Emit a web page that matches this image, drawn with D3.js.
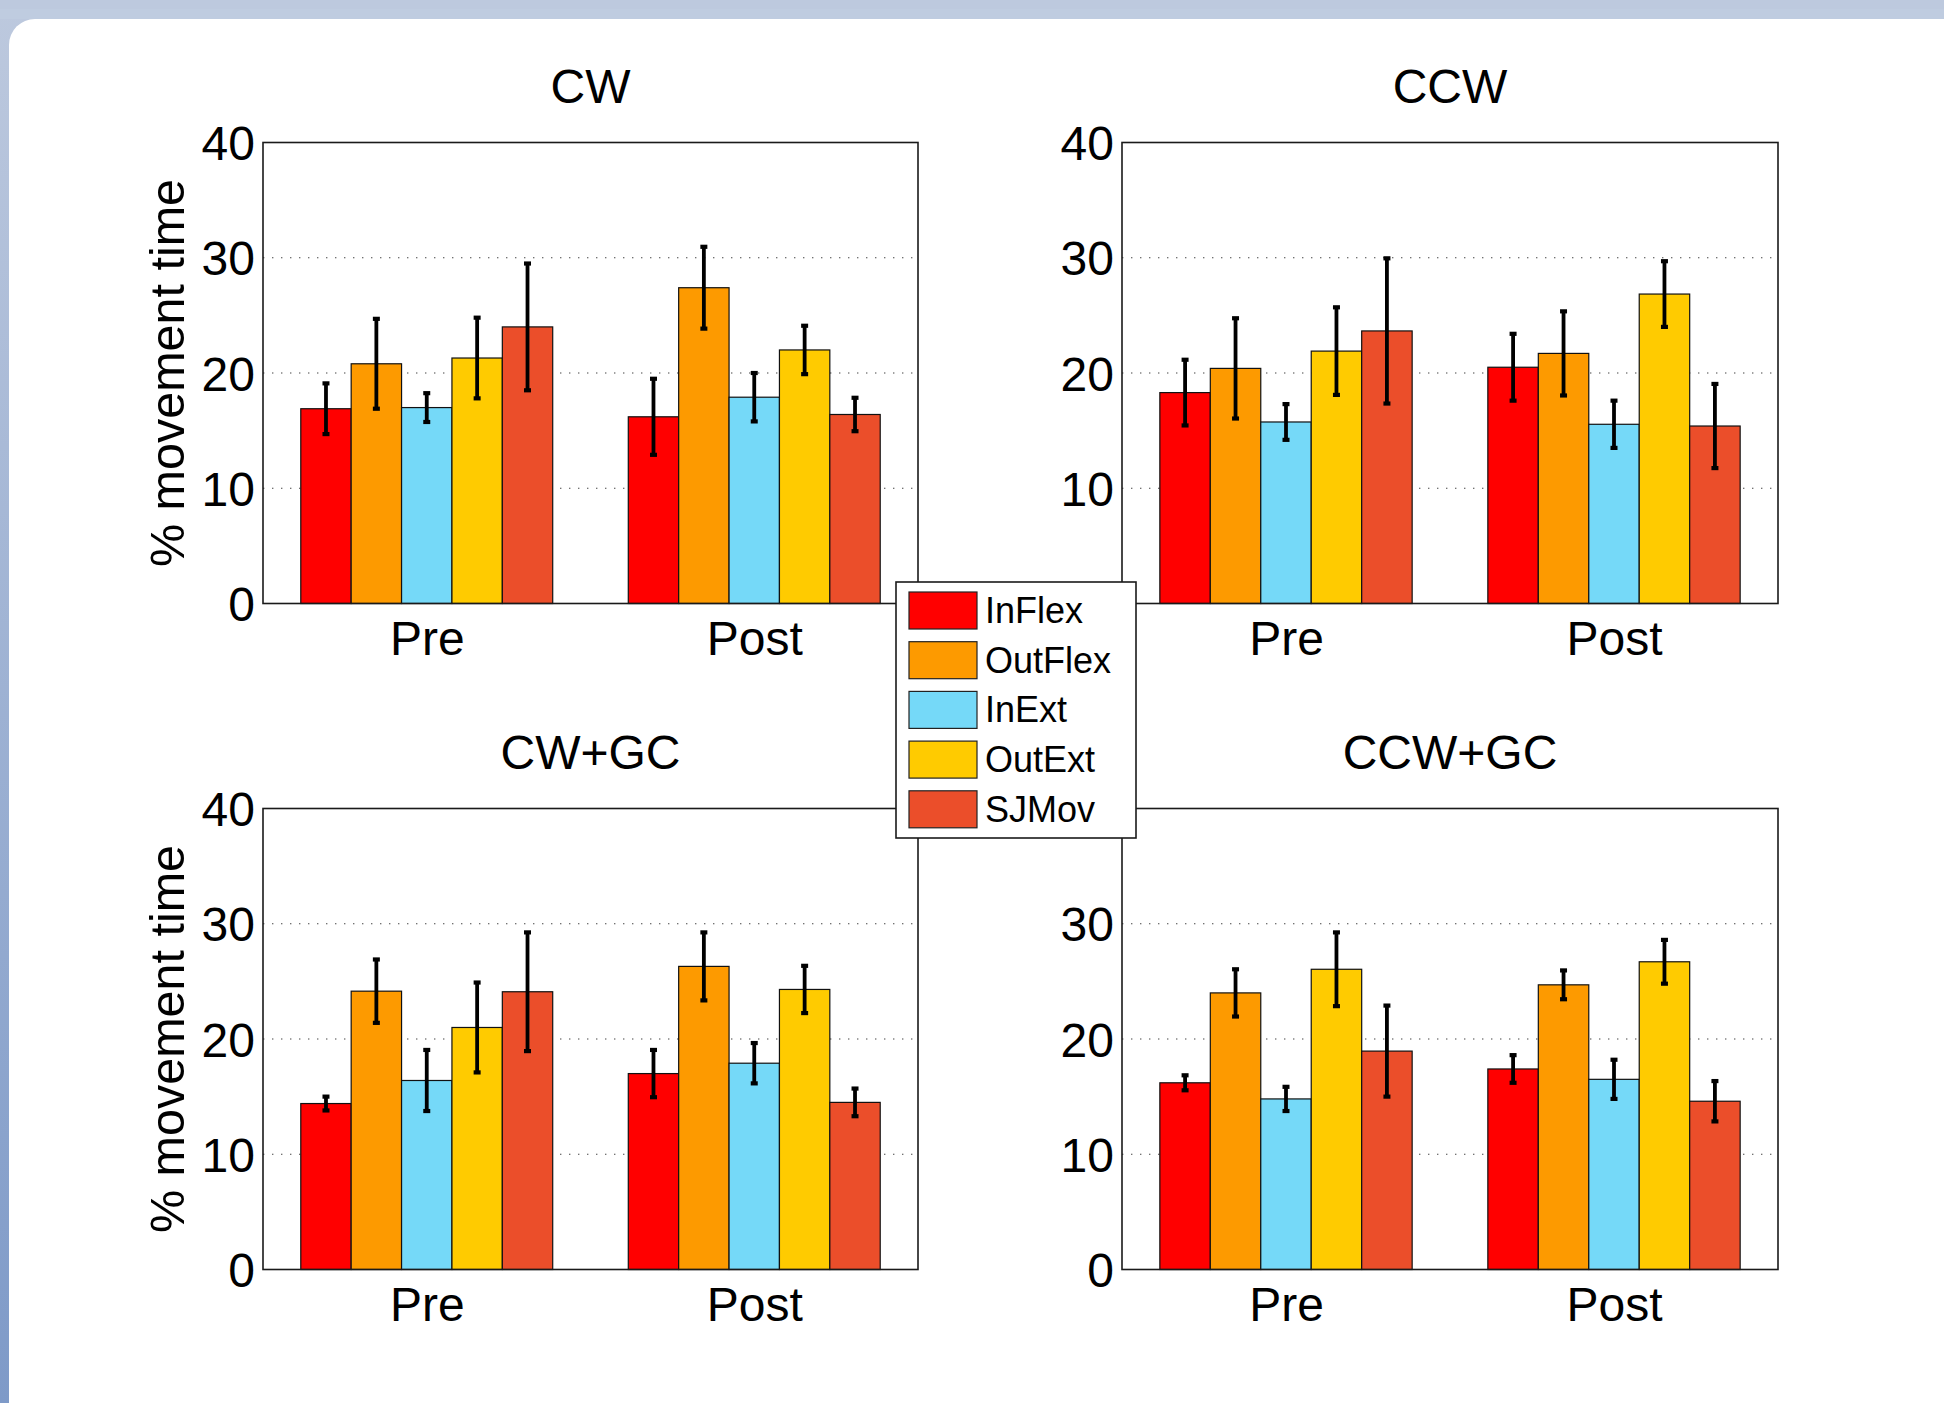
<!DOCTYPE html>
<html>
<head>
<meta charset="utf-8">
<script src="https://cdn.jsdelivr.net/npm/d3@7"></script>
<style>
  html, body { margin: 0; padding: 0; background: #fff; }
  svg { display: block; }
</style>
</head>
<body>
<div id="field"></div>
<script>
'use strict';

// data
const panels = ['CW', 'CCW', 'CW+GC', 'CCW+GC'];
const phases = ['Pre', 'Post'];
const movements = ['InFlex', 'OutFlex', 'InExt', 'OutExt', 'SJMov'];
const colors = ['#ff0000', '#fd9a00', '#75d9f8', '#ffcb00', '#eb4e2a'];
const yTicks = [0, 10, 20, 30, 40];

// [Pre, Post] x movements
const cwMean = [[16.9, 20.8, 17.0, 21.3, 24.0], [16.2, 27.4, 17.9, 22.0, 16.4]];
const cwErr = [[2.2, 3.9, 1.25, 3.5, 5.5], [3.3, 3.55, 2.1, 2.1, 1.45]];
const ccwMean = [[18.3, 20.4, 15.75, 21.9, 23.65], [20.5, 21.7, 15.55, 26.85, 15.4]];
const ccwErr = [[2.85, 4.35, 1.55, 3.8, 6.3], [2.9, 3.65, 2.05, 2.85, 3.65]];
const cwgcMean = [[14.4, 24.15, 16.4, 21.0, 24.1], [17.0, 26.3, 17.9, 24.3, 14.5]];
const cwgcErr = [[0.6, 2.75, 2.65, 3.9, 5.15], [2.05, 2.95, 1.75, 2.05, 1.2]];
const ccwgcMean = [[16.2, 24.0, 14.8, 26.05, 18.95], [17.4, 24.7, 16.5, 26.7, 14.6]];
const ccwgcErr = [[0.65, 2.05, 1.05, 3.2, 3.95], [1.2, 1.25, 1.7, 1.9, 1.75]];

const means = [cwMean, ccwMean, cwgcMean, ccwgcMean];
const errs = [cwErr, ccwErr, cwgcErr, ccwgcErr];

const W = 1944, H = 1403;
const font = '"Liberation Sans", Arial, Helvetica, sans-serif';
const fs = 48;

// panel boxes: x, y, w, h
const boxes = [
  [263, 142.5, 655, 461],
  [1122, 142.5, 656, 461],
  [263, 808.5, 655, 461],
  [1122, 808.5, 656, 461]
];
// legend box: x, y, w, h (sits on top of the panels, hides what is under it)
const legendBox = [896, 582, 240, 256];

const svg = d3.select('#field').append('svg').attr('width', W).attr('height', H);

// window background
const defs = svg.append('defs');
const grad = defs.append('linearGradient').attr('id', 'side').attr('x1', 0).attr('y1', 0).attr('x2', 0).attr('y2', 1);
grad.append('stop').attr('offset', '0%').attr('stop-color', '#bdc9de');
grad.append('stop').attr('offset', '100%').attr('stop-color', '#7e9ac8');
svg.append('rect').attr('width', W).attr('height', H).attr('fill', 'url(#side)');
svg.append('rect').attr('width', W).attr('height', 19).attr('fill', '#bdc9de');
svg.append('rect').attr('x', 0).attr('y', 9).attr('width', W).attr('height', 10).attr('fill', '#bfcce0');
svg.append('rect').attr('x', 9).attr('y', 19).attr('width', W + 40).attr('height', H + 40)
  .attr('rx', 26).attr('fill', '#fff');

// MATLAB-style grouped bars: group width = 5 / (5 + 1.5)
const groupWidth = movements.length / (movements.length + 1.5);
const inner = d3.scaleBand().domain(movements).range([-groupWidth / 2, groupWidth / 2]);

function underLegend(px, py) {
  return px > legendBox[0] && px < legendBox[0] + legendBox[2] &&
         py > legendBox[1] && py < legendBox[1] + legendBox[3];
}

panels.forEach(function(name, p) {
  const [bx, by, bw, bh] = boxes[p];
  const g = svg.append('g').attr('transform', 'translate(' + bx + ',' + by + ')');

  const x = d3.scaleLinear().domain([0.5, phases.length + 0.5]).range([0, bw]);
  const y = d3.scaleLinear().domain([0, 40]).range([bh, 0]);

  // dotted grid
  g.selectAll('.grid').data(yTicks.slice(1)).enter().append('line')
    .attr('x1', 0).attr('x2', bw)
    .attr('y1', function(d) { return y(d); })
    .attr('y2', function(d) { return y(d); })
    .attr('stroke', '#444')
    .attr('stroke-width', 1.2)
    .attr('stroke-dasharray', '1.4,7.6');

  // bars
  const rows = [];
  phases.forEach(function(ph, i) {
    movements.forEach(function(mv, j) {
      rows.push({ group: i + 1, mv: mv, color: colors[j], m: means[p][i][j], e: errs[p][i][j] });
    });
  });

  g.selectAll('.bar').data(rows).enter().append('rect')
    .attr('x', function(d) { return x(d.group + inner(d.mv)); })
    .attr('y', function(d) { return y(d.m); })
    .attr('width', function(d) { return x(d.group + inner(d.mv) + inner.bandwidth()) - x(d.group + inner(d.mv)); })
    .attr('height', function(d) { return y(0) - y(d.m); })
    .attr('fill', function(d) { return d.color; })
    .attr('stroke', '#111')
    .attr('stroke-width', 1.2);

  // error bars
  const cx = function(d) { return x(d.group + inner(d.mv) + inner.bandwidth() / 2); };
  g.selectAll('.err').data(rows).enter().append('line')
    .attr('x1', cx).attr('x2', cx)
    .attr('y1', function(d) { return y(d.m - d.e); })
    .attr('y2', function(d) { return y(d.m + d.e); })
    .attr('stroke', '#000')
    .attr('stroke-width', 3.8);
  ['lo', 'hi'].forEach(function(end) {
    g.selectAll('.cap' + end).data(rows).enter().append('line')
      .attr('x1', function(d) { return cx(d) - 3.5; })
      .attr('x2', function(d) { return cx(d) + 3.5; })
      .attr('y1', function(d) { return y(end === 'lo' ? d.m - d.e : d.m + d.e); })
      .attr('y2', function(d) { return y(end === 'lo' ? d.m - d.e : d.m + d.e); })
      .attr('stroke', '#000')
      .attr('stroke-width', 4.2);
  });

  // box
  g.append('rect').attr('width', bw).attr('height', bh)
    .attr('fill', 'none').attr('stroke', '#1a1a1a').attr('stroke-width', 1.6);

  // y axis labels (the ones hidden under the legend are left out)
  const shown = yTicks.filter(function(d) { return !underLegend(bx - 20, by + y(d)); });
  const yAxis = g.append('g').call(d3.axisLeft(y).tickValues(shown).tickSize(0).tickPadding(8));
  yAxis.select('.domain').remove();
  yAxis.selectAll('text')
    .attr('dy', null)
    .attr('y', 17)
    .attr('font-family', font)
    .attr('font-size', fs)
    .attr('fill', '#000');

  // x axis labels
  const xAxis = g.append('g').attr('transform', 'translate(0,' + bh + ')')
    .call(d3.axisBottom(x).tickValues(d3.range(1, phases.length + 1))
      .tickFormat(function(d) { return phases[d - 1]; }).tickSize(0));
  xAxis.select('.domain').remove();
  xAxis.selectAll('text')
    .attr('dy', null)
    .attr('y', 51)
    .attr('font-family', font)
    .attr('font-size', fs)
    .attr('fill', '#000');

  // title
  g.append('text')
    .attr('x', bw / 2).attr('y', -40)
    .attr('text-anchor', 'middle')
    .attr('font-family', font).attr('font-size', fs)
    .text(name);

  // y label on left column only
  if (p % 2 === 0) {
    g.append('text')
      .attr('transform', 'translate(' + (184 - bx) + ',' + (bh / 2) + ') rotate(-90)')
      .attr('text-anchor', 'middle')
      .attr('font-family', font).attr('font-size', fs + 0.5)
      .text('% movement time');
  }
});

// legend
const lg = svg.append('g').attr('transform', 'translate(' + legendBox[0] + ',' + legendBox[1] + ')');
lg.append('rect').attr('width', legendBox[2]).attr('height', legendBox[3])
  .attr('fill', '#fff').attr('stroke', '#1a1a1a').attr('stroke-width', 1.6);
const items = lg.selectAll('.item').data(movements).enter().append('g')
  .attr('transform', function(d, i) { return 'translate(13,' + (10 + i * 49.7) + ')'; });
items.append('rect').attr('width', 68).attr('height', 37)
  .attr('fill', function(d, i) { return colors[i]; })
  .attr('stroke', '#222').attr('stroke-width', 1.2);
items.append('text')
  .attr('x', 76).attr('y', 31)
  .attr('font-family', font).attr('font-size', 36)
  .text(function(d) { return d; });
</script>
</body>
</html>
